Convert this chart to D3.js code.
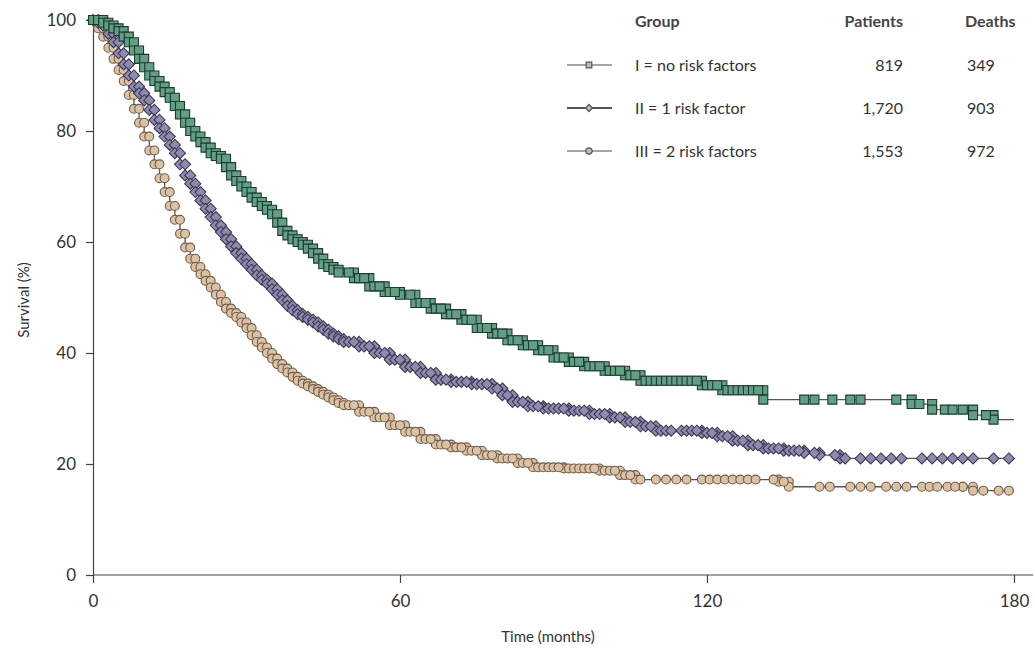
<!DOCTYPE html>
<meta charset="utf-8">
<style>
body { margin: 0; background: #fff; font-family: 'Lato', sans-serif; }
svg { display: block; }
.axis path, .axis line { stroke: #444; stroke-width: 1.2px; }
.axis text { font-family: 'Lato', sans-serif; font-size: 17px; fill: #333; }
.curve { fill: none; stroke: #555; stroke-width: 1.3px; }
.legend text { font-size: 16px; fill: #333; }
.legend .head { font-weight: 700; fill: #444; }
</style>
<body>
<script src="https://cdn.jsdelivr.net/npm/d3@7"></script>
<script>

// Kaplan-Meier steps: [month, survival %]
var groupI = [[0,100],[1,100],[2,99.5],[3,99],[4,98.5],[5,98],[6,97],[7,96],[8,94.5],[9,93],[10,91.5],[11,90],[12,89],[13,88],[14,87],[15,86],[16,84.5],[17,83],[18,81.5],[19,80],[20,79],[21,78],[22,77],[23,76],[24,75.5],[25,75],[26,73.5],[27,72],[28,71],[29,70],[30,69],[31,68],[32,67.2],[33,66.5],[34,65.8],[35,65],[36,63.5],[37,62],[38,61.2],[39,60.5],[40,60],[41,59.5],[42,58.8],[43,58],[44,57],[45,56],[46,55.5],[47,55],[48,54.5],[51,53.5],[54,52],[57,51],[60,50.5],[63,49],[66,48],[69,47],[72,46],[75,44.5],[78,43.5],[81,42.3],[84,41.4],[87,40.5],[90,39.2],[93,38.4],[96,37.6],[100,36.8],[104,36],[107,35],[119,34.2],[123,33.3],[131,31.6],[160,30.8],[164,29.8],[172,28.8],[176,28],[180,28]];
var groupII = [[0,100],[1,99.5],[2,99],[3,97.5],[4,96],[5,94],[6,92],[7,90],[8,88],[9,86.8],[10,85.5],[11,83.8],[12,82],[13,80.5],[14,79],[15,77.5],[16,76],[17,74],[18,72],[19,70.5],[20,69],[21,67.5],[22,66],[23,64.5],[24,63],[25,61.8],[26,60.5],[27,59.2],[28,58],[29,57],[30,56],[31,55],[32,54],[33,53.2],[34,52.5],[35,51.5],[36,50.5],[37,49.5],[38,48.5],[39,47.7],[40,47],[41,46.5],[42,46],[43,45.5],[44,44.8],[45,44.2],[46,43.5],[47,43],[48,42.5],[49,42],[52,41.2],[55,40],[58,38.8],[61,37.5],[64,36.4],[67,35.2],[70,34.8],[74,34.4],[78,33.6],[80,32.4],[82,31.2],[85,30.4],[88,30],[93,29.6],[97,29],[101,28.4],[104,27.6],[107,26.8],[110,26],[119,25.6],[122,25],[125,24.2],[128,23.4],[131,22.8],[135,22.4],[139,22],[142,21.6],[146,21],[180,21]];
var groupIII = [[0,100],[1,98.5],[2,97],[3,95],[4,93],[5,91],[6,89],[7,86.5],[8,84],[9,81.5],[10,79],[11,76.5],[12,74],[13,71.5],[14,69],[15,66.5],[16,64],[17,61.5],[18,59],[19,57],[20,55.5],[21,54.2],[22,53],[23,51.8],[24,50.5],[25,49.2],[26,48],[27,47.2],[28,46.5],[29,45.5],[30,44.5],[31,43.2],[32,42],[33,41],[34,40],[35,39],[36,38],[37,37.2],[38,36.5],[39,35.7],[40,35],[41,34.5],[42,34],[43,33.5],[44,33],[45,32.5],[46,32],[47,31.5],[48,31],[49,30.6],[52,29.4],[55,28.4],[58,27],[61,25.8],[64,24.5],[67,23.5],[70,23],[73,22.4],[76,21.6],[79,21],[83,20.2],[86,19.4],[92,19.2],[99,18.8],[103,18],[106,17.2],[134,16.8],[136,15.9],[170,15.9],[172,15.2],[180,15.2]];

// censored-observation marks (months)
var marksI = [50,52,53,55,56,58,59,62,64,65,67,68,70,71,73,74,76,77,79,80,82,83,85,86,88,89,91,92,94,95,97,98,99,101,102,103,105,106,108,109,110,111,112,113,114,115,116,117,118,120,121,122,124,125,126,127,128,129,130,139,141,144.5,148,150,157,161.5,166.5,168,170,174.5];
var marksII = [50,51,53,54,56,57,59,60,62,63,65,66,68,69,71,72,73,75,76,77,79,81,83,84,86,87,89,90,91,92,94,95,96,98,99,100,102,103,105,106,108,109,111,112,113,115,116,117,118,120,121,123,124,126,127,129,130,132,133,134,136,137,138,141,145,147,150,152,154,156,158,162,164,166,168,170,172,176,179];
var marksIII = [50,51,53,54,56,57,59,60,62,63,65,66,68,69,71,72,74,75,77,78,80,81,82,84,85,87,88,89,90,91,93,94,95,96,97,98,100,101,102,104,105,107,110,112,114,116,119,120.5,122,123.5,125,126.5,128,129.5,133,135,142,144,148,150,152,155,157,159,162,163.5,165,167,168.5,174,177,179];

var groupNames = ["I = no risk factors", "II = 1 risk factor", "III = 2 risk factors"];
var patients = ["819", "1,720", "1,553"];
var deaths = ["349", "903", "972"];
var xTicks = [0, 60, 120, 180];
var yTicks = [0, 20, 40, 60, 80, 100];

var diamond = d3.symbolDiamond2 || d3.symbolDiamond;
var series = [
  { steps: groupI, marks: marksI, shape: d3.symbolSquare, size: 81, fill: "#62a086", stroke: "#1f3a30" },
  { steps: groupII, marks: marksII, shape: diamond, size: 78, fill: "#8e8bae", stroke: "#3c3a55" },
  { steps: groupIII, marks: marksIII, shape: d3.symbolCircle, size: 62, fill: "#dcc2a4", stroke: "#6e5b48" }
];

var width = 1035, height = 651;
var svg = d3.select("body").append("svg")
    .attr("width", width)
    .attr("height", height);

var x = d3.scaleLinear().domain([0, 180]).range([93, 1014]);
var y = d3.scaleLinear().domain([0, 100]).range([575, 20]);

// axes
svg.append("g")
    .attr("class", "axis")
    .attr("transform", "translate(0,575)")
    .call(d3.axisBottom(x).tickValues(xTicks).tickSize(8).tickPadding(12).tickSizeOuter(0))
    .call(function(g) { g.select(".domain").attr("d", "M93,0H1033"); });

svg.append("g")
    .attr("class", "axis")
    .attr("transform", "translate(93,0)")
    .call(d3.axisLeft(y).tickValues(yTicks).tickSize(7).tickPadding(10).tickSizeOuter(0));

svg.append("text")
    .attr("x", 548).attr("y", 642)
    .attr("text-anchor", "middle")
    .style("font-size", "15px").style("fill", "#333")
    .text("Time (months)");

svg.append("text")
    .attr("transform", "translate(29,300) rotate(-90)")
    .attr("text-anchor", "middle")
    .style("font-size", "15px").style("fill", "#333")
    .text("Survival (%)");

var line = d3.line()
    .x(function(d) { return x(d[0]); })
    .y(function(d) { return y(d[1]); })
    .curve(d3.curveStepAfter);

function survivalAt(steps, t) {
  var i = d3.bisector(function(d) { return d[0]; }).right(steps, t) - 1;
  return steps[Math.max(0, i)][1];
}

// marker spots: both corners of every step, plus the censor marks
function markSpots(s) {
  var spots = [];
  s.steps.forEach(function(d, i) {
    if (i > 0 && d[0] < 180) spots.push([d[0], s.steps[i - 1][1]]);
    if (d[0] < 180) spots.push(d);
  });
  s.marks.forEach(function(t) { spots.push([t, survivalAt(s.steps, t)]); });
  return spots;
}

// draw group III first so group I sits on top
series.slice().reverse().forEach(function(s) {
  var g = svg.append("g");
  g.append("path")
      .attr("class", "curve")
      .attr("d", line(s.steps));
  g.selectAll("path.mark")
      .data(markSpots(s))
    .enter().append("path")
      .attr("class", "mark")
      .attr("transform", function(d) { return "translate(" + x(d[0]) + "," + y(d[1]) + ")"; })
      .attr("d", d3.symbol().type(s.shape).size(s.size))
      .style("fill", s.fill)
      .style("stroke", s.stroke)
      .style("stroke-width", 1.1);
});

// legend table
var legend = svg.append("g").attr("class", "legend");
legend.append("text").attr("class", "head").attr("x", 635).attr("y", 27).text("Group");
legend.append("text").attr("class", "head").attr("x", 903).attr("y", 27).attr("text-anchor", "end").text("Patients");
legend.append("text").attr("class", "head").attr("x", 965).attr("y", 27).text("Deaths");

var rows = legend.selectAll("g.row")
    .data(series)
  .enter().append("g")
    .attr("class", "row")
    .attr("transform", function(d, i) { return "translate(0," + (65 + i * 43) + ")"; });

rows.append("line")
    .attr("x1", 567).attr("x2", 612)
    .attr("y1", 0).attr("y2", 0)
    .style("stroke", function(d, i) { return i == 1 ? "#555" : "#888"; })
    .style("stroke-width", function(d, i) { return i == 1 ? 2 : 1.3; });

rows.append("path")
    .attr("transform", "translate(589,0)")
    .attr("d", function(d) { return d3.symbol().type(d.shape).size(32)(); })
    .style("fill", "#bbb")
    .style("stroke", "#555")
    .style("stroke-width", 1.2);

rows.append("text").attr("x", 635).attr("y", 6).text(function(d, i) { return groupNames[i]; });
rows.append("text").attr("x", 903).attr("y", 6).attr("text-anchor", "end").text(function(d, i) { return patients[i]; });
rows.append("text").attr("x", 967).attr("y", 6).text(function(d, i) { return deaths[i]; });

</script>
</body>
